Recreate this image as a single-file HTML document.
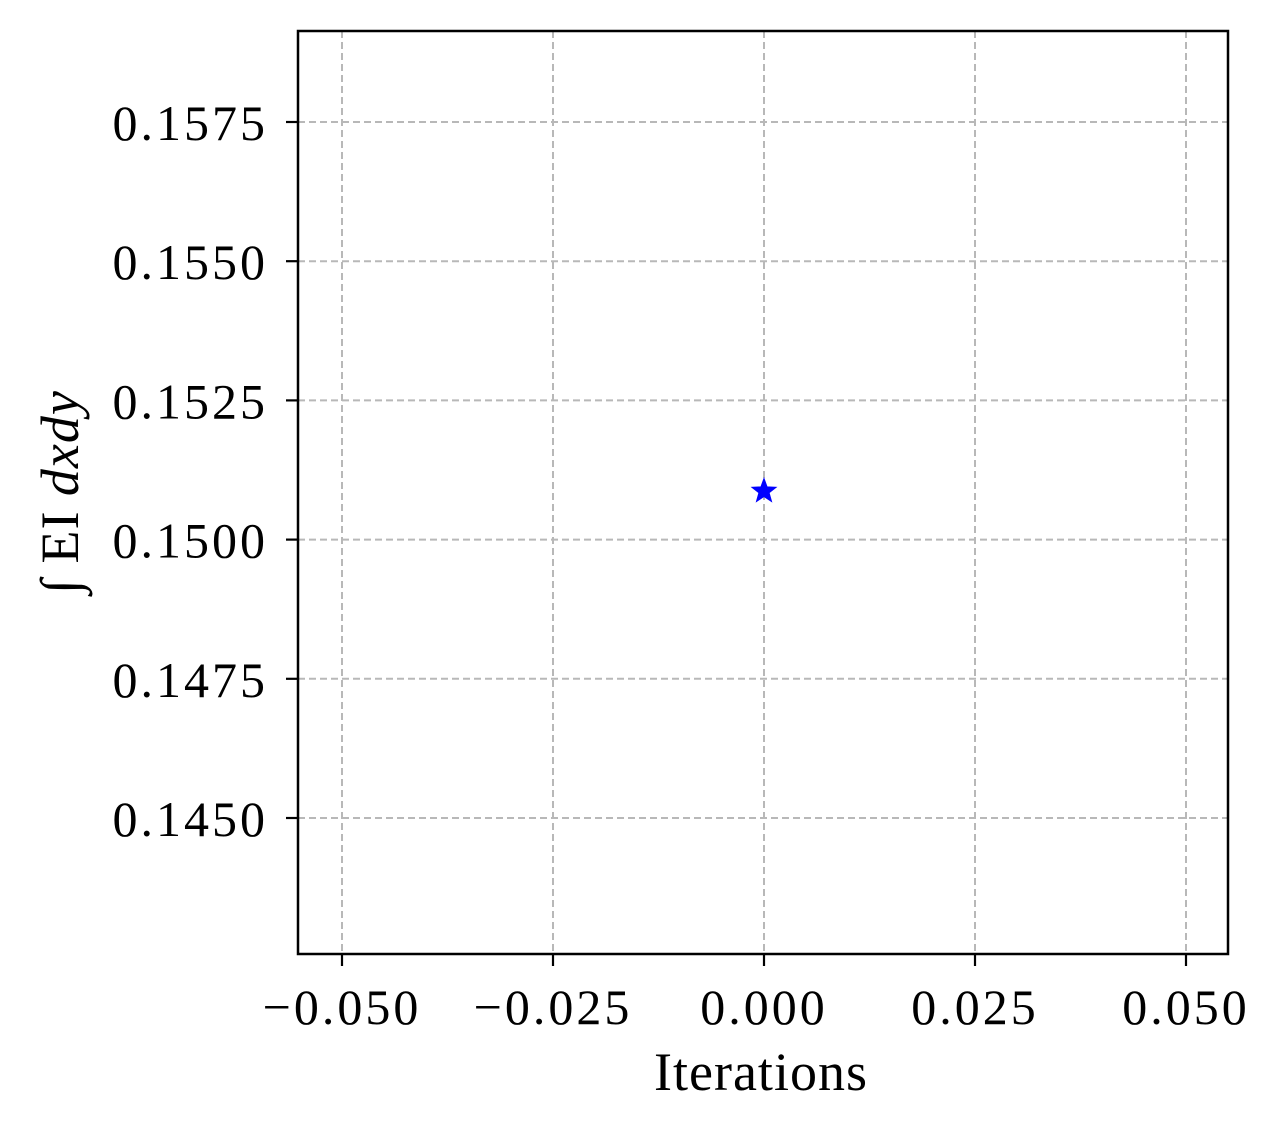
<!DOCTYPE html>
<html><head><meta charset="utf-8"><style>
html,body{margin:0;padding:0;background:#fff;}
svg text{font-family:"Liberation Serif","DejaVu Serif",serif;fill:#000;}
</style></head>
<body>
<svg id="chart" width="1281" height="1133" xmlns="http://www.w3.org/2000/svg">
<rect width="1281" height="1133" fill="#fff"/>
<g id="grid"></g>
<g id="axes"></g>
<g id="marks"></g>
<rect x="298" y="31" width="930" height="923" fill="none" stroke="#000" stroke-width="2.5"/>
<text x="761" y="1090" font-size="54" letter-spacing="1" text-anchor="middle">Iterations</text>
<text transform="translate(78,492) rotate(-90)" font-size="54" letter-spacing="1" text-anchor="middle"><tspan font-style="italic">∫</tspan> EI <tspan font-style="italic">dxdy</tspan></text>
</svg>
<script>
const xTicks=[-0.05,-0.025,0,0.025,0.05];
const xTickLabels=["−0.050","−0.025","0.000","0.025","0.050"];
const yTicks=[0.1450,0.1475,0.1500,0.1525,0.1550,0.1575];
const yTickLabels=["0.1450","0.1475","0.1500","0.1525","0.1550","0.1575"];
const seriesX=[0];
const seriesY=[0.15087];

const NS="http://www.w3.org/2000/svg";
const L=298,R=1228,T=31,B=954;
function xs(v){return 764+(v)*8440;}
function ys(v){return 122+(0.1575-v)/0.0025*139.2;}
function mk(tag,attrs,parent){const e=document.createElementNS(NS,tag);for(const k in attrs)e.setAttribute(k,attrs[k]);parent.appendChild(e);return e;}
const grid=document.getElementById('grid'),axes=document.getElementById('axes'),marks=document.getElementById('marks');
xTicks.forEach((t,i)=>{
  const x=xs(t);
  const g=mk('line',{x1:x,x2:x,y1:T,y2:B,stroke:'#b8b8b8','stroke-width':2,'stroke-dasharray':'7,4'},grid);
  
  
  const tk=mk('line',{x1:x,x2:x,y1:B,y2:B+12,stroke:'#000','stroke-width':2.2},axes);
  
  
  const tx=mk('text',{x:x,y:1024,'font-size':50,'letter-spacing':3,'text-anchor':'middle'},axes);
  tx.textContent=xTickLabels[i];
  
  
});
yTicks.forEach((t,i)=>{
  const y=ys(t);
  const g=mk('line',{x1:L,x2:R,y1:y,y2:y,stroke:'#b8b8b8','stroke-width':2,'stroke-dasharray':'7,4'},grid);
  
  
  const tk=mk('line',{x1:L-12,x2:L,y1:y,y2:y,stroke:'#000','stroke-width':2.2},axes);
  
  
  const tx=mk('text',{x:268,y:y+18,'font-size':50,'letter-spacing':3,'text-anchor':'end'},axes);
  tx.textContent=yTickLabels[i];
  
  
});
seriesX.forEach((v,i)=>{
  const cx=xs(v),cy=ys(seriesY[i]);
  let pts=[];
  for(let k=0;k<10;k++){const r=k%2?5:12;const a=-Math.PI/2+k*Math.PI/5;pts.push((cx+r*Math.cos(a)).toFixed(1)+','+(cy+r*Math.sin(a)).toFixed(1));}
  const s=mk('polygon',{points:pts.join(' '),fill:'#0000ff',stroke:'#0000ff','stroke-width':1.5},marks);
  
  
});
</script>
</body></html>
